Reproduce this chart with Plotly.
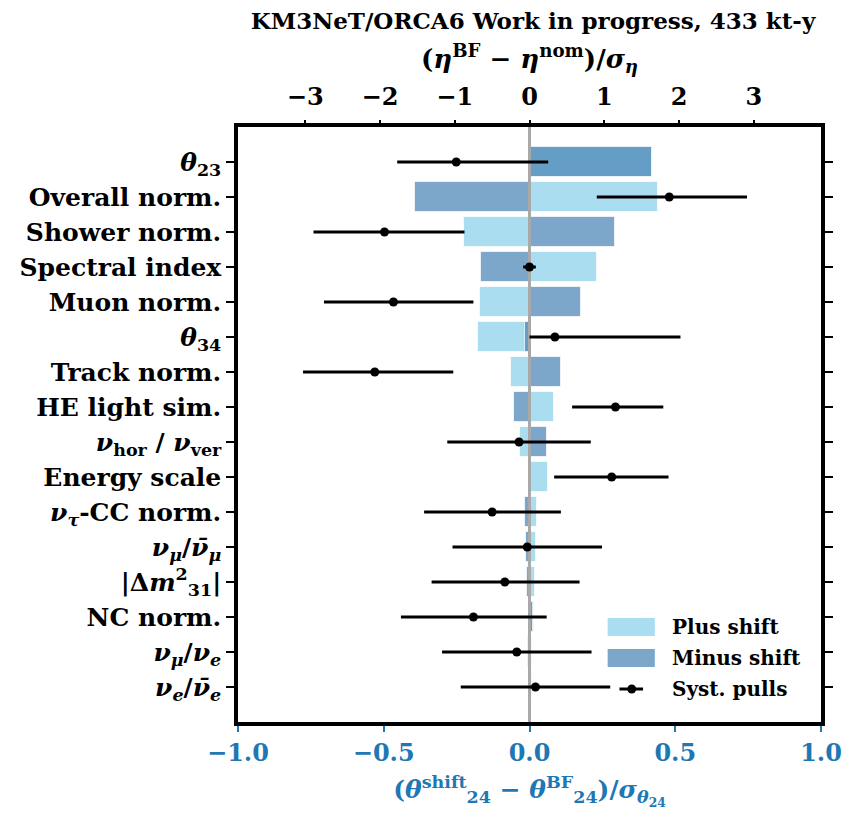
import plotly.graph_objects as go

# Systematic parameters, top to bottom
params = [
    "<i>θ</i><sub>23</sub>",
    "Overall norm.",
    "Shower norm.",
    "Spectral index",
    "Muon norm.",
    "<i>θ</i><sub>34</sub>",
    "Track norm.",
    "HE light sim.",
    "<i>ν</i><sub>hor</sub> / <i>ν</i><sub>ver</sub>",
    "Energy scale",
    "<i>ν</i><sub><i>τ</i></sub>-CC norm.",
    "<i>ν</i><sub><i>μ</i></sub>/<i>ν̄</i><sub><i>μ</i></sub>",
    "|Δ<i>m</i><sup>2</sup><sub>31</sub>|",
    "NC norm.",
    "<i>ν</i><sub><i>μ</i></sub>/<i>ν</i><sub><i>e</i></sub>",
    "<i>ν</i><sub><i>e</i></sub>/<i>ν̄</i><sub><i>e</i></sub>",
]

# Impact on theta_24 of a +1 sigma / -1 sigma shift of each parameter
plus_shift = [0.42, 0.44, -0.224, 0.232, -0.171, -0.177, -0.063, 0.085,
              -0.032, 0.063, 0.025, 0.022, 0.020, 0.016, 0.010, 0.008]
minus_shift = [0.42, -0.392, 0.293, -0.166, 0.177, -0.016, 0.109, -0.053,
               0.060, -0.003, -0.015, -0.012, -0.008, 0.012, -0.004, -0.003]

# Pulls of the systematics at best fit, with asymmetric uncertainties
pull = [-0.98, 1.87, -1.94, 0.00, -1.82, 0.34, -2.07, 1.15,
        -0.14, 1.10, -0.50, -0.03, -0.33, -0.75, -0.17, 0.08]
pull_lo = [0.79, 0.97, 0.95, 0.085, 0.93, 0.34, 0.96, 0.58,
           0.96, 0.77, 0.91, 1.00, 0.98, 0.97, 1.00, 1.00]
pull_hi = [1.23, 1.04, 1.07, 0.085, 1.07, 1.68, 1.05, 0.64,
           0.96, 0.76, 0.92, 1.00, 1.00, 0.98, 1.00, 1.00]

ypos = list(range(len(params) - 1, -1, -1))

PLUS_COL = "rgba(135,206,235,0.7)"
MINUS_COL = "rgba(70,130,180,0.7)"
AX_BLUE = "#1f77b4"
FONT = "DejaVu Serif"

fig = go.Figure()

fig.add_trace(go.Bar(
    x=plus_shift, y=ypos, orientation="h", base=0, width=0.85,
    marker=dict(color=PLUS_COL, line=dict(color="rgba(255,255,255,0.7)", width=1)),
    name="Plus shift", showlegend=False, xaxis="x", yaxis="y",
))
fig.add_trace(go.Bar(
    x=minus_shift, y=ypos, orientation="h", base=0, width=0.85,
    marker=dict(color=MINUS_COL, line=dict(color="rgba(255,255,255,0.7)", width=1)),
    name="Minus shift", showlegend=False, xaxis="x", yaxis="y",
))

# Zero reference line
fig.add_trace(go.Scatter(
    x=[0, 0], y=[-1, 16], mode="lines",
    line=dict(color="darkgray", width=3),
    showlegend=False, hoverinfo="skip", xaxis="x", yaxis="y",
))

fig.add_trace(go.Scatter(
    x=pull, y=ypos, mode="markers",
    marker=dict(color="black", size=9),
    error_x=dict(type="data", symmetric=False, array=pull_hi, arrayminus=pull_lo,
                 color="black", thickness=3, width=0),
    name="Syst. pulls", showlegend=False, xaxis="x2", yaxis="y",
))

fig.update_layout(
    width=854, height=815,
    margin=dict(l=238, r=23, t=127, b=93),
    plot_bgcolor="white", paper_bgcolor="white",
    barmode="overlay", bargap=0,
    font=dict(family=FONT, color="black", size=22),
    xaxis=dict(
        range=[-1, 1], tickvals=[-1.0, -0.5, 0.0, 0.5, 1.0],
        ticktext=["<b>−1.0</b>", "<b>−0.5</b>", "<b>0.0</b>", "<b>0.5</b>", "<b>1.0</b>"],
        tickfont=dict(color=AX_BLUE, size=24, family=FONT),
        ticks="outside", ticklen=6, tickwidth=1.5, tickcolor=AX_BLUE,
        showline=True, linecolor="black", linewidth=3.5, mirror=True,
        showgrid=False, zeroline=False,
        title=dict(text="<b>(<i>θ</i><sup>shift</sup><sub>24</sub> − <i>θ</i><sup>BF</sup><sub>24</sub>)/<i>σ</i><sub><i>θ</i><sub>24</sub></sub></b>",
                   font=dict(color=AX_BLUE, size=25, family=FONT), standoff=16),
    ),
    xaxis2=dict(
        range=[-3.9, 3.9], overlaying="x", side="top", anchor="y",
        tickvals=[-3, -2, -1, 0, 1, 2, 3],
        ticktext=["<b>−3</b>", "<b>−2</b>", "<b>−1</b>", "<b>0</b>", "<b>1</b>", "<b>2</b>", "<b>3</b>"],
        tickfont=dict(size=24, family=FONT),
        ticks="outside", ticklen=6, tickwidth=1.5, tickcolor="black",
        ticklabelstandoff=5,
        showline=False, showgrid=False, zeroline=False,
        title=dict(text="<b>(<i>η</i><sup>BF</sup> − <i>η</i><sup>nom</sup>)/<i>σ</i><sub><i>η</i></sub></b>",
                   font=dict(size=26, family=FONT), standoff=6),
    ),
    yaxis=dict(
        range=[-1, 16], tickvals=ypos, ticktext=["<b>" + p + "</b>" for p in params],
        tickfont=dict(size=25, family=FONT),
        ticks="outside", ticklen=8, tickwidth=1.5, tickcolor="black",
        showline=True, linecolor="black", linewidth=3.5, mirror="ticks",
        showgrid=False, zeroline=False,
    ),
    title=dict(text="<b>KM3NeT/ORCA6 Work in progress, 433 kt-y</b>",
               x=(533 / 854), xanchor="center", y=1 - 21 / 815, yanchor="middle",
               font=dict(size=23, family=FONT)),
)

# Legend drawn inside the lower-right corner of the axes
X0, X1, Y0, Y1 = 238, 831, 127, 722
def px(x):
    return (x - X0) / (X1 - X0)
def py(y):
    return (Y1 - y) / (Y1 - Y0)

legend_rows = [("Plus shift", PLUS_COL, 627), ("Minus shift", MINUS_COL, 658), ("Syst. pulls", None, 689)]
for label, col, yc in legend_rows:
    if col is not None:
        fig.add_shape(type="rect", xref="paper", yref="paper",
                      x0=px(614), x1=px(662), y0=py(yc + 9), y1=py(yc - 9),
                      fillcolor=col, line=dict(width=0))
    else:
        fig.add_shape(type="line", xref="paper", yref="paper",
                      x0=px(626), x1=px(650), y0=py(yc), y1=py(yc),
                      line=dict(color="black", width=3))
        fig.add_shape(type="circle", xref="paper", yref="paper",
                      x0=px(634), x1=px(643), y0=py(yc + 4.5), y1=py(yc - 4.5),
                      fillcolor="black", line=dict(width=0))
    fig.add_annotation(xref="paper", yref="paper", x=px(677), y=py(yc),
                       xanchor="left", yanchor="middle", showarrow=False,
                       text="<b>" + label + "</b>", font=dict(size=20, family=FONT))

fig.write_html("out.html")
